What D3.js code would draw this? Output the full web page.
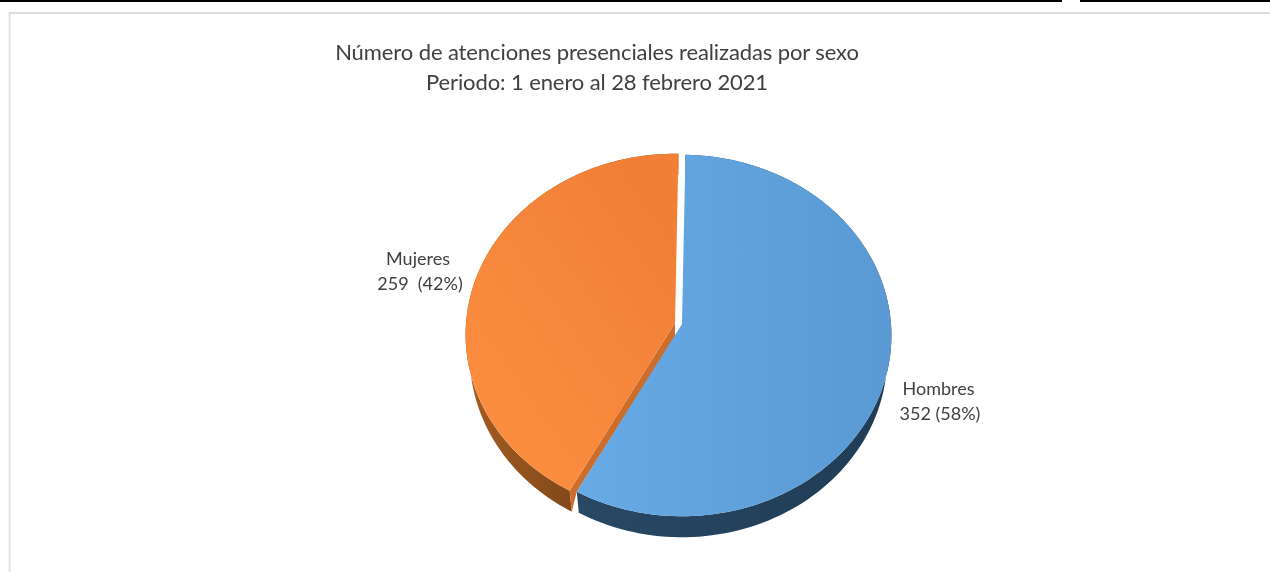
<!DOCTYPE html>
<html>
<head>
<meta charset="utf-8">
<title>Atenciones presenciales por sexo</title>
<script src="https://cdn.jsdelivr.net/npm/d3@7"></script>
<style>
  html, body { margin: 0; padding: 0; background: #fff; }
  svg { display: block; filter: blur(0.35px); }
  text { font-family: Lato, "Open Sans", sans-serif; fill: #404040; white-space: pre; }
</style>
</head>
<body>
<svg id="chart" width="1270" height="572"></svg>
<script>
// Values
var categories = ["Hombres", "Mujeres"];
var values = [352, 259];
var valueLabels = ["352 (58%)", "259  (42%)"];
var titleLines = ["Número de atenciones presenciales realizadas por sexo", "Periodo: 1 enero al 28 febrero 2021"];

var width = 1270, height = 572;
var svg = d3.select("#chart");

// 3D look of the pie: radius, tilt, perspective and wall depth
var radiusX = 209, radiusY = 180, persp = 0.0637, depth = 21, wallShrink = 0.98;
var centers = { Hombres: [682, 324], Mujeres: [675, 323] };
var labelPos = { Hombres: [938.5, 395], Mujeres: [418, 265] };
var valuePos = { Hombres: [940, 420], Mujeres: [420, 290] };

// Page rules behind the chart
svg.append("line").attr("x1", 0).attr("x2", 1062).attr("y1", 1).attr("y2", 1)
  .attr("stroke", "#000").attr("stroke-width", 2.2);
svg.append("line").attr("x1", 1080).attr("x2", width).attr("y1", 1).attr("y2", 1)
  .attr("stroke", "#000").attr("stroke-width", 2.2);
svg.append("path").attr("d", "M9.5," + height + "V13H" + width)
  .attr("fill", "none").attr("stroke", "#dedede").attr("stroke-width", 1.8);

var defs = svg.append("defs");
function gradient(id, x1, y1, x2, y2, from, to) {
  var g = defs.append("linearGradient").attr("id", id)
    .attr("gradientUnits", "userSpaceOnUse")
    .attr("x1", x1).attr("y1", y1).attr("x2", x2).attr("y2", y2);
  g.append("stop").attr("offset", "0%").attr("stop-color", from);
  g.append("stop").attr("offset", "100%").attr("stop-color", to);
}
gradient("topHombres", 580, 0, 891, 0, "#66aae6", "#5a99d3");
gradient("topMujeres", 465, 400, 680, 250, "#fb8d40", "#f18036");
gradient("wallHombres", 578, 0, 891, 0, "#284864", "#203c55");
gradient("wallMujeres", 470, 0, 575, 0, "#a35c22", "#81481a");

var pie = d3.pie().sort(null)
  .startAngle(Math.PI / 180)
  .endAngle(Math.PI * 2 + Math.PI / 180);
var slices = pie(values);

// Project a point of the pie disc on to the tilted, slightly perspective plane
function project(center, angle, r) {
  var u = r * Math.sin(angle), v = -r * Math.cos(angle);
  var s = 1 / (1 - persp * v);
  return [center[0] + radiusX * u * s, center[1] + radiusY * v * s];
}
function rim(center, slice) {
  return d3.range(0, 121).map(function(i) {
    return project(center, slice.startAngle + (slice.endAngle - slice.startAngle) * i / 120, 1);
  });
}
var line = d3.line();

var hombres = slices[0], mujeres = slices[1];
var cH = centers.Hombres, cM = centers.Mujeres;
var rimH = rim(cH, hombres), rimM = rim(cM, mujeres);
// Bottom rim of the wall: moved down and a little narrower
function lowered(pts, center) {
  return pts.map(function(p) {
    return [center[0] + (p[0] - center[0]) * wallShrink, p[1] + depth];
  }).reverse();
}

// Orange slice: wall, cut face, top
var lowM = lowered(rimM, cM);
svg.append("path").attr("d", line(rimM.concat(lowM)) + "Z").attr("fill", "url(#wallMujeres)");
var tipM = rimM[0], tipH = rimH[120];
svg.append("path")
  .attr("d", line([cM, tipM, lowM[120], tipH, [cM[0], cM[1] + depth * 0.65]]) + "Z")
  .attr("fill", "#cc6d2c");
svg.append("path").attr("d", line([cM].concat(rimM)) + "Z").attr("fill", "url(#topMujeres)");

// Blue slice: wall, top
svg.append("path").attr("d", line(rimH.concat(lowered(rimH, cH))) + "Z").attr("fill", "url(#wallHombres)");
svg.append("path").attr("d", line([cH].concat(rimH)) + "Z").attr("fill", "url(#topHombres)");

// Title
svg.selectAll("text.title").data(titleLines).enter().append("text")
  .attr("class", "title")
  .attr("x", 597)
  .attr("y", function(d, i) { return 60 + i * 30; })
  .attr("text-anchor", "middle")
  .attr("font-size", 22)
  .attr("letter-spacing", -0.1)
  .text(function(d) { return d; });

// Data labels
categories.forEach(function(name, i) {
  svg.append("text").attr("x", labelPos[name][0]).attr("y", labelPos[name][1]).attr("text-anchor", "middle")
    .attr("font-size", 18).text(name);
  svg.append("text").attr("x", valuePos[name][0]).attr("y", valuePos[name][1]).attr("text-anchor", "middle")
    .attr("font-size", 18).text(valueLabels[i]);
});
</script>
</body>
</html>
